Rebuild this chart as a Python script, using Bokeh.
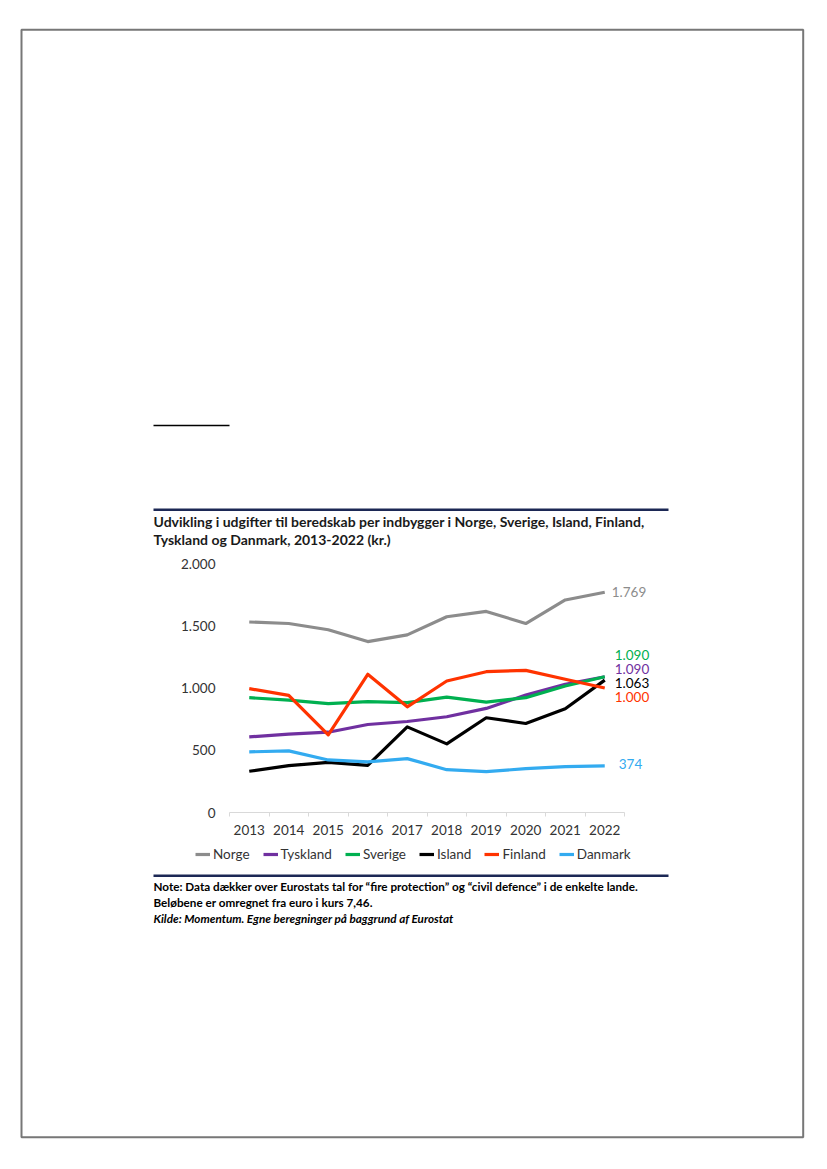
from bokeh.plotting import figure
from bokeh.models import (Range1d, FixedTicker, Label, LabelSet, ColumnDataSource,
                          Legend, LegendItem, BoxAnnotation)
from bokeh.core.properties import value
from bokeh.embed import file_html
from bokeh.resources import INLINE

# ---- data ----
years = [2013, 2014, 2015, 2016, 2017, 2018, 2019, 2020, 2021, 2022]
norge = [1530, 1518, 1468, 1373, 1427, 1572, 1615, 1518, 1707, 1769]
tyskland = [607, 630, 645, 707, 731, 769, 836, 943, 1030, 1090]
sverige = [922, 903, 874, 890, 882, 927, 887, 922, 1016, 1090]
island = [331, 376, 403, 379, 688, 551, 761, 715, 833, 1063]
finland = [995, 941, 624, 1110, 849, 1056, 1131, 1142, 1070, 1000]
danmark = [487, 495, 422, 406, 433, 344, 328, 352, 368, 374]
series_names = ["Norge", "Tyskland", "Sverige", "Island", "Finland", "Danmark"]
y_ticks = [0, 500, 1000, 1500, 2000]

title_lines = ["Udvikling i udgifter til beredskab per indbygger i Norge, Sverige, Island, Finland,",
               "Tyskland og Danmark, 2013-2022 (kr.)"]
note_lines = ["Note: Data dækker over Eurostats tal for \u201cfire protection\u201d og \u201ccivil defence\u201d i de enkelte lande.",
              "Beløbene er omregnet fra euro i kurs 7,46."]
source_line = "Kilde: Momentum. Egne beregninger på baggrund af Eurostat"

# ---- styles ----
colors = {"Norge": "#8c8c8c", "Tyskland": "#7030a0", "Sverige": "#00b050",
          "Island": "#000000", "Finland": "#ff3300", "Danmark": "#33abf0"}
label_dx = {"Norge": 7, "Tyskland": 10, "Sverige": 10, "Island": 10, "Finland": 10, "Danmark": 14}
label_dy = {"Norge": 0, "Tyskland": 8, "Sverige": 22, "Island": -3, "Finland": -9, "Danmark": 2}
FONT = "Lato"
NAVY = "#1c2855"
TXT = "#333333"

data = dict(zip(series_names, [norge, tyskland, sverige, island, finland, danmark]))

def fmt(v):
    return f"{v:,}".replace(",", ".")

W, H = 827, 1169
# chart plot area in page pixels
FL, FR, FT, FB = 229, 624, 563, 812
X0, X1 = years[0] - 0.5, years[-1] + 0.5
Y0, Y1 = y_ticks[0], y_ticks[-1]
kx = (FR - FL) / (X1 - X0)
ky = (FB - FT) / (Y1 - Y0)

p = figure(width=W, height=H, output_backend="svg", toolbar_location=None, title=None,
           x_range=Range1d(X0 - FL / kx, X1 + (W - FR) / kx),
           y_range=Range1d(Y0 - (H - FB) / ky, Y1 + FT / ky),
           min_border=0)
p.outline_line_color = None
p.xgrid.visible = False
p.ygrid.visible = False
p.background_fill_color = "white"
p.border_fill_color = "white"

# x axis
xa = p.xaxis[0]
xa.fixed_location = Y0
xa.bounds = (X0, X1)
xa.ticker = FixedTicker(ticks=years, minor_ticks=[y - 0.5 for y in years] + [years[-1] + 0.5])
xa.major_label_overrides = {y: str(y) for y in years}
xa.axis_line_color = "#d9d9d9"
xa.major_tick_out = 0
xa.major_tick_in = 0
xa.minor_tick_out = 4
xa.minor_tick_in = 0
xa.minor_tick_line_color = "#d9d9d9"
xa.major_label_standoff = 8
xa.major_label_text_font = FONT
xa.major_label_text_font_size = "13.5px"
xa.major_label_text_color = TXT

# y axis
ya = p.yaxis[0]
ya.fixed_location = X0
ya.bounds = (Y0, Y1)
ya.ticker = FixedTicker(ticks=y_ticks)
ya.major_label_overrides = {t: fmt(t) for t in y_ticks}
ya.axis_line_color = None
ya.major_tick_line_color = None
ya.minor_tick_line_color = None
ya.major_tick_out = 0
ya.major_label_standoff = 14
ya.major_label_text_font = FONT
ya.major_label_text_font_size = "13.5px"
ya.major_label_text_color = TXT

items = []
for name in series_names:
    r = p.line(years, data[name], line_color=colors[name], line_width=3.2, line_join="round")
    items.append(LegendItem(label=name, renderers=[r]))

def sx(px):
    return px

def sy(py):
    return H - py

leg = Legend(items=items, orientation="horizontal", location=(sx(195), sy(864)),
             padding=0, margin=0, spacing=13, glyph_width=15, glyph_height=20,
             label_height=20, label_standoff=3, border_line_color=None,
             background_fill_alpha=0, label_text_font=FONT, label_text_font_size="13.5px",
             label_text_color=TXT)
p.add_layout(leg)

# end labels
src = ColumnDataSource(dict(
    x=[years[-1]] * len(series_names),
    y=[data[n][-1] for n in series_names],
    text=[fmt(data[n][-1]) for n in series_names],
    color=[colors[n] for n in series_names],
    xo=[label_dx[n] for n in series_names],
    yo=[label_dy[n] for n in series_names],
))
p.add_layout(LabelSet(x="x", y="y", text="text", source=src, x_offset="xo", y_offset="yo",
                      text_color="color", text_font=value(FONT), text_font_size="13.5px",
                      text_baseline="middle", text_align="left"))

# title
for i, t in enumerate(title_lines):
    p.add_layout(Label(x=sx(153), y=sy(520.5 + i * 18), x_units="screen", y_units="screen",
                       text=t, text_font=FONT, text_font_style="bold", text_font_size="14px",
                       text_color="#1a1a1a", text_baseline="alphabetic"))
# notes
for i, t in enumerate(note_lines):
    p.add_layout(Label(x=sx(153), y=sy(885 + i * 16), x_units="screen", y_units="screen",
                       text=t, text_font=FONT, text_font_style="bold", text_font_size="11.7px",
                       text_color="#000000", text_baseline="alphabetic"))
p.add_layout(Label(x=sx(153), y=sy(917), x_units="screen", y_units="screen",
                   text=source_line, text_font=FONT, text_font_style="bold italic",
                   text_font_size="11.7px", text_color="#000000", text_baseline="alphabetic"))

# rules and page frame
def box(l, r, t, b, **kw):
    return BoxAnnotation(left=sx(l), right=sx(r), top=sy(t), bottom=sy(b),
                         left_units="screen", right_units="screen",
                         top_units="screen", bottom_units="screen", **kw)

p.add_layout(box(153, 668, 508, 510.5, fill_color=NAVY, fill_alpha=1, line_color=None))
p.add_layout(box(153, 668, 874, 876.5, fill_color=NAVY, fill_alpha=1, line_color=None))
p.add_layout(box(153, 229, 424.3, 425.8, fill_color="#000000", fill_alpha=1, line_color=None))
p.add_layout(box(21, 802.7, 29.2, 1136.8, fill_alpha=0, line_color="#777777",
                 line_alpha=1, line_width=2))

open("out.html", "w").write(file_html(p, INLINE))
